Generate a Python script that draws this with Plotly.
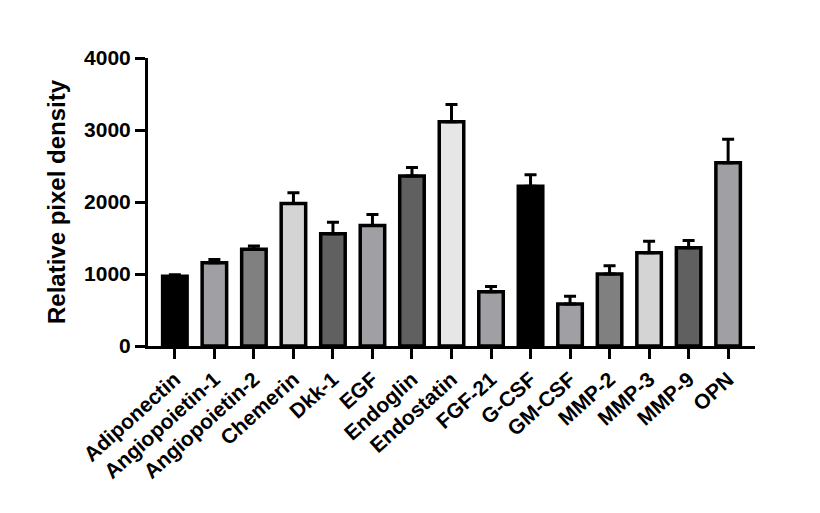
import plotly.graph_objects as go

# Proteins measured
proteins = ['Adiponectin', 'Angiopoietin-1', 'Angiopoietin-2', 'Chemerin', 'Dkk-1',
            'EGF', 'Endoglin', 'Endostatin', 'FGF-21', 'G-CSF', 'GM-CSF',
            'MMP-2', 'MMP-3', 'MMP-9', 'OPN']
density = [970, 1155, 1345, 1980, 1560, 1675, 2360, 3115, 755, 2220, 585,
           1000, 1295, 1365, 2545]
density_err = [20, 45, 45, 150, 160, 150, 120, 240, 70, 160, 105,
               115, 160, 100, 325]
bar_colors = ['#000000', '#a0a0a4', '#808080', '#d4d4d4', '#606060',
              '#a0a0a4', '#606060', '#e6e6e6', '#a0a0a4', '#000000', '#a0a0a4',
              '#808080', '#d4d4d4', '#606060', '#a0a0a4']

fig = go.Figure(go.Bar(
    x=proteins, y=density,
    width=0.62,
    marker=dict(color=bar_colors, line=dict(color='black', width=3.5)),
    error_y=dict(type='data', array=density_err, arrayminus=[0] * len(density_err),
                 symmetric=False, color='black', thickness=3, width=6),
))

font = 'Arial, Liberation Sans, sans-serif'
fig.update_layout(
    width=820, height=513,
    margin=dict(l=140, r=73, t=50, b=175),
    plot_bgcolor='white', paper_bgcolor='white',
    showlegend=False,
    font=dict(family=font, color='black'),
)
fig.update_xaxes(
    range=[-0.68, 14.68], showline=True, linecolor='black', linewidth=3,
    ticks='outside', ticklen=10, tickwidth=3, tickcolor='black',
    tickangle=-42, tickfont=dict(size=21, family=font, weight='bold'),
    showgrid=False,
)
fig.update_yaxes(
    range=[0, 4000], tickvals=[0, 1000, 2000, 3000, 4000],
    showline=True, linecolor='black', linewidth=3,
    ticks='outside', ticklen=10, tickwidth=3, tickcolor='black',
    tickfont=dict(size=21, family=font, weight='bold'),
    showgrid=False, zeroline=False,
    title=dict(text='Relative pixel density', standoff=12,
               font=dict(size=24, family=font, weight='bold')),
)

fig.write_html('out.html')
